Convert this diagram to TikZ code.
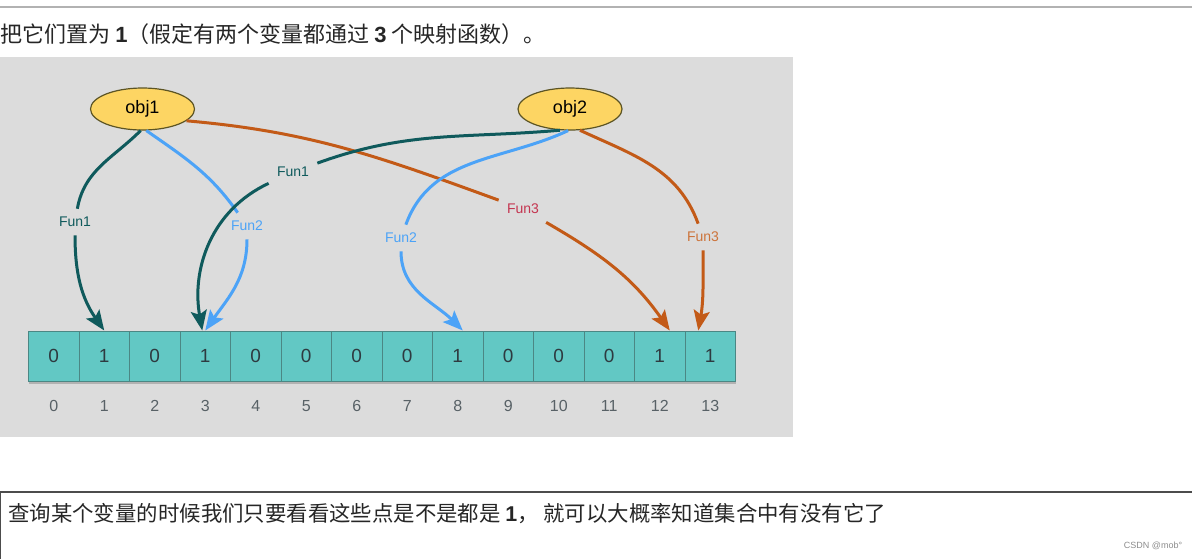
\documentclass[tikz,border=0pt]{standalone}
\usepackage{fontspec}
\setmainfont{Liberation Sans}
\newfontfamily\cjk{Noto Sans CJK SC}
\usetikzlibrary{positioning,arrows.meta,shapes.geometric}
\definecolor{panel}{HTML}{DCDCDC}
\definecolor{fteal}{HTML}{0F5A5C}
\definecolor{fblue}{HTML}{4CA3F7}
\definecolor{forange}{HTML}{C35A17}
\definecolor{fred}{HTML}{C43550}
\definecolor{objfill}{HTML}{FDD563}
\definecolor{objline}{HTML}{5C5424}
\definecolor{cellfill}{HTML}{62C8C4}
\definecolor{cellline}{HTML}{4B8784}
\definecolor{digit}{HTML}{2E3A40}

\begin{document}
\begin{tikzpicture}[x=0.5pt, y=-0.5pt,
  obj/.style={ellipse, draw=objline, fill=objfill, line width=0.6pt, minimum width=52pt, minimum height=21pt, inner sep=0pt, font=\fontsize{9}{10}\selectfont},
  cell/.style={draw=cellline, fill=cellfill, line width=0.5pt, minimum width=25.25pt, minimum height=25pt, inner sep=0pt, font=\fontsize{9.5}{11}\selectfont, text=digit},
  idx/.style={font=\fontsize{8}{10}\selectfont, text=digit!80},
  fun/.style={font=\fontsize{7}{8}\selectfont, inner sep=4pt},
  link/.style={line width=1.5pt},
  hit/.style={link, -{Stealth[length=10pt, width=8pt, inset=2pt]}},
  cn/.style={font=\cjk\fontsize{11}{12}\selectfont, inner sep=0pt, anchor=west, text=black!85}
]
  \useasboundingbox (0,0) rectangle (1192,559);
  \draw[black!30, line width=0.6pt] (0,7) -- (1192,7);
  \node[cn] (intro) at (0,34) {把它们置为 {\normalfont\bfseries 1}（假定有两个变量都通过 {\normalfont\bfseries 3} 个映射函数）。};
  \fill[panel] (0,57) rectangle (793,437);

  % objects
  \node[obj] (obj1) at (142.5,109) {obj1};
  \node[obj] (obj2) at (570,109) {obj2};

  % bit array and indices
  \fill[black!30] (28.5,336) rectangle (735.5,384);
  \foreach \i/\b in {0/0,1/1,2/0,3/1,4/0,5/0,6/0,7/0,8/1,9/0,10/0,11/0,12/1,13/1} {
    \node[cell] (c\i) at ({53.75+50.5*\i},356) {\b};
    \node[idx] (n\i) at ({53.75+50.5*\i},406) {\i};
  }

  % hash function labels
  \node[fun, text=fteal] (a1) at (75,222) {Fun1};
  \node[fun, text=fblue] (a2) at (247,226) {Fun2};
  \node[fun, text=fred] (a3) at (523,209) {Fun3};
  \node[fun, text=fteal] (a4) at (293,172) {Fun1};
  \node[fun, text=fblue] (a5) at (401,238) {Fun2};
  \node[fun, text=forange!85] (a6) at (703,237) {Fun3};

  % obj1
  \draw[link, fteal] (obj1.-95) to[out=-135, in=80] (a1);
  \draw[hit, fteal] (a1) to[out=-90, in=125] (c1.north);
  \draw[link, fblue] (obj1.-80) to[out=-35, in=125] (a2);
  \draw[hit, fblue] (a2) to[out=-90, in=55] (c3.north);
  \draw[link, forange] (obj1.-15) to[out=-5, in=160] (a3);
  \draw[hit, forange] (a3) to[out=-30, in=125] ([xshift=5pt]c12.north);

  % obj2
  \draw[link, fteal] (obj2.-115) to[out=185, in=20] (a4);
  \draw[hit, fteal] (a4) to[out=205, in=100] ([xshift=-1.5pt]c3.north);
  \draw[link, fblue] (obj2.-95) to[out=205, in=70] (a5);
  \draw[hit, fblue] (a5) to[out=-90, in=135] ([xshift=2.5pt]c8.north);
  \draw[link, forange] (obj2.-65) to[out=-25, in=110] (a6);
  \draw[hit, forange] (a6) to[out=-90, in=80] ([xshift=-6pt]c13.north);

  % query box
  \draw[black!70, line width=1pt] (0,492) -- (1192,492);
  \draw[black!70, line width=0.6pt] (0,492) -- (0,559);
  \node[cn, font=\cjk\fontsize{10.7}{12}\selectfont] (query) at (8,514) {查询某个变量的时候我们只要看看这些点是不是都是 {\normalfont\bfseries 1}， 就可以大概率知道集合中有没有它了};
  \node[font=\fontsize{4.5}{5}\selectfont, text=black!45, inner sep=0pt] (mark) at (1153,546) {CSDN @mob°};
\end{tikzpicture}
\end{document}
